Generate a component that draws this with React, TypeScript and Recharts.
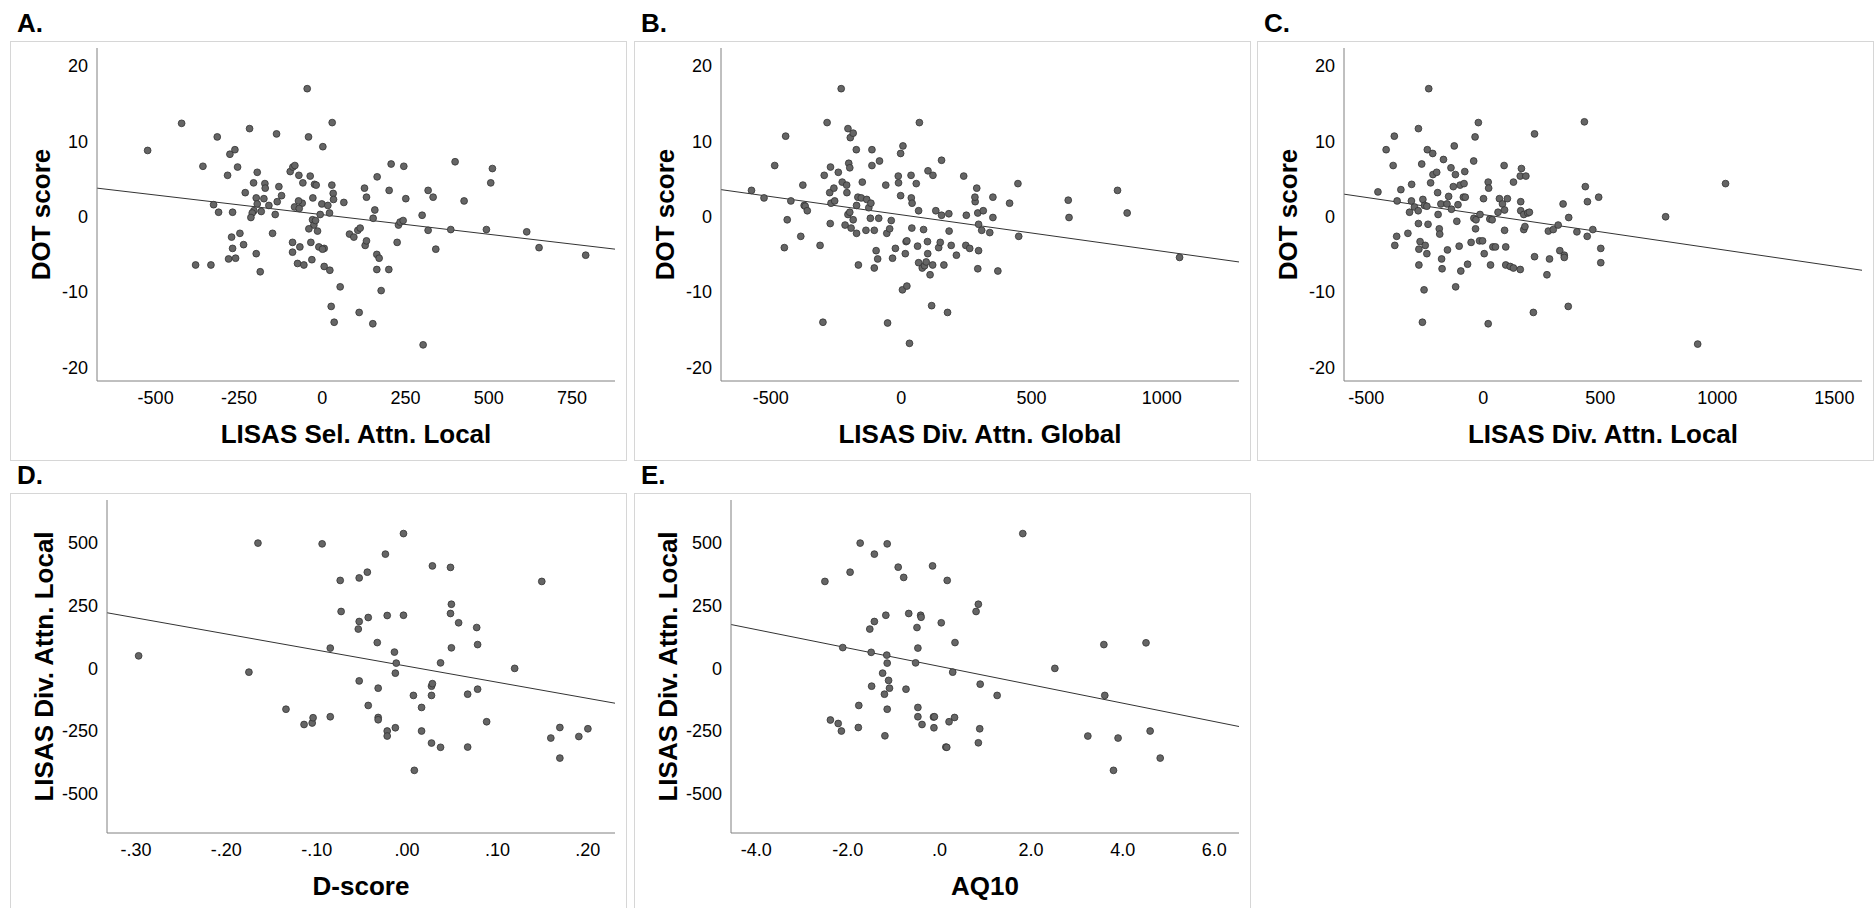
import React from "react";
import { ScatterChart, Scatter, XAxis, YAxis, ReferenceLine, Label } from "recharts";

type Pt = [number, number];

// A. LISAS Sel. Attn. Local (x) vs DOT score (y)
const panelA: Pt[] = [
  [-524, 8.8], [-422, 12.4], [-358, 6.7], [-315, 10.6], [-326, 1.6], [-311, 0.6], [-380, -6.4], [-334, -6.4],
  [-284, 5.5], [-277, 8.3], [-262, 8.9], [-254, 6.6], [-269, 0.6], [-272, -2.7], [-269, -4.2], [-281, -5.6],
  [-260, -5.5], [-247, -2.2], [-236, -3.7], [-231, 3.2], [-218, 11.7], [-206, 4.5], [-195, 5.9], [-198, 2.5],
  [-195, 1.7], [-205, 0.8], [-210, 0.5], [-214, -0.1], [-198, -4.9], [-186, -7.3], [-183, 0.7], [-175, 2.4],
  [-172, 4.4], [-171, 3.8], [-160, 1.5], [-141, 0.3], [-149, -2.2], [-137, 11.0], [-135, 2.0], [-130, 4.0],
  [-122, 2.8], [-96, 6.0], [-88, 6.6], [-82, 6.8], [-70, 5.5], [-58, 4.5], [-60, 1.8], [-71, 2.1],
  [-83, 1.3], [-69, 1.1], [-89, -3.4], [-89, -4.7], [-67, -4.0], [-74, -6.2], [-55, -6.4], [-45, 17.0],
  [-41, 10.6], [-36, 5.4], [-28, 2.5], [-23, 4.3], [-18, 4.2], [-29, -0.4], [-25, -1.1], [-40, -1.6],
  [-14, -1.9], [-34, -3.4], [-31, -5.7], [-20, -0.5], [-6, 0.3], [-1, 1.7], [2, 9.3], [17, 1.5],
  [22, 0.5], [-10, -4.0], [6, -4.2], [1, -4.3], [6, -6.6], [23, -7.1], [30, 12.5], [29, 4.2],
  [33, 3.1], [34, 2.3], [65, 1.9], [27, -11.9], [36, -14.0], [54, -9.3], [82, -2.3], [95, -2.7],
  [107, -1.8], [114, -1.5], [111, -12.7], [127, 3.8], [133, 2.6], [129, -3.8], [133, -3.2], [152, -14.2],
  [153, -0.2], [158, 0.9], [165, 5.3], [164, -5.0], [171, -5.5], [164, -7.0], [177, -9.8], [201, 3.5],
  [200, -7.0], [207, 7.0], [225, -3.4], [229, -1.1], [234, -0.7], [243, -0.5], [245, 6.7], [251, 2.4],
  [300, 0.2], [303, -17.0], [318, 3.5], [318, -1.8], [333, 2.6], [341, -4.3], [386, -1.7], [399, 7.3],
  [426, 2.1], [493, -1.7], [506, 4.5], [511, 6.4], [614, -2.0], [651, -4.1], [791, -5.1],
];
const fitA: Pt[] = [[-676, 3.8], [879, -4.3]];

// B. LISAS Div. Attn. Global (x) vs DOT score (y)
const panelB: Pt[] = [
  [-574, 3.5], [-526, 2.5], [-485, 6.8], [-443, 10.7], [-437, -0.4], [-448, -4.1], [-423, 2.1], [-385, -2.6],
  [-377, 4.2], [-372, 1.5], [-368, 1.4], [-360, 0.8], [-311, -3.8], [-300, -14.0], [-295, 5.5], [-284, 12.5],
  [-274, 3.2], [-271, 6.6], [-272, -0.9], [-269, 1.8], [-255, 2.1], [-258, 3.8], [-241, 5.9], [-230, 17.0],
  [-226, 4.6], [-215, -1.1], [-208, 3.2], [-209, 4.2], [-204, 11.7], [-201, 7.1], [-197, 6.5], [-195, 10.5],
  [-184, 11.1], [-204, 0.3], [-197, 0.6], [-192, -1.5], [-184, -0.4], [-172, 8.9], [-171, 1.5], [-171, -2.2],
  [-166, 2.6], [-164, -6.4], [-153, 2.5], [-149, 4.6], [-135, -1.8], [-132, 2.3], [-124, 1.2], [-116, 1.8],
  [-118, -0.2], [-112, 8.9], [-112, 6.8], [-103, -1.8], [-103, -6.8], [-96, -4.5], [-90, -5.6], [-86, -0.2],
  [-83, 7.4], [-59, 4.2], [-55, -2.2], [-44, -1.6], [-52, -14.1], [-38, -0.5], [-33, -5.5], [-22, -4.2],
  [-11, 5.4], [-10, 4.5], [-2, 2.8], [-2, 8.4], [7, 9.4], [5, -9.7], [22, -9.2], [16, -4.9],
  [19, -3.3], [22, -3.2], [32, -16.8], [38, 5.5], [39, 2.5], [42, 1.8], [41, -1.5], [58, 4.4],
  [67, 0.8], [70, 12.5], [63, -3.9], [67, -6.1], [81, -6.8], [86, -1.7], [90, -6.5], [96, -6.0],
  [101, -3.3], [102, -4.9], [103, 6.1], [111, -7.7], [117, -11.8], [121, -6.4], [122, 5.5], [133, 0.8],
  [144, -4.1], [150, -3.4], [155, 0.2], [155, 7.5], [164, -6.4], [178, -12.7], [183, 0.4], [184, -1.9],
  [192, -3.8], [212, -5.1], [240, 5.4], [250, 0.2], [248, -3.8], [263, -4.2], [284, 2.0], [283, 2.6],
  [290, 3.8], [294, 0.5], [297, -1.0], [297, -4.5], [294, -6.9], [309, -1.8], [315, 0.8], [340, -2.1],
  [352, 2.6], [352, -0.1], [371, -7.2], [416, 1.8], [448, 4.4], [451, -2.6], [641, 2.2], [644, -0.1],
  [830, 3.5], [867, 0.5], [1068, -5.4],
];
const fitB: Pt[] = [[-691, 3.6], [1296, -6.0]];

// C. LISAS Div. Attn. Local (x) vs DOT score (y)
const panelC: Pt[] = [
  [-450, 3.3], [-415, 8.9], [-385, 6.8], [-380, 10.7], [-368, 2.1], [-370, -2.6], [-378, -3.8], [-352, 3.6],
  [-322, -2.2], [-315, 0.6], [-307, 2.1], [-306, 4.3], [-294, 1.3], [-278, 0.8], [-277, -0.9], [-277, 11.7],
  [-275, -6.4], [-275, -4.3], [-270, -3.3], [-263, 7.0], [-260, -14.0], [-258, 2.3], [-253, -9.7], [-251, 1.5],
  [-248, -3.8], [-241, -4.9], [-241, 1.4], [-239, 8.9], [-236, -1.0], [-233, 17.0], [-225, 4.5], [-216, 8.4],
  [-215, 5.6], [-199, 5.9], [-195, 3.2], [-193, 0.3], [-188, -1.6], [-186, -2.3], [-181, 1.7], [-178, -5.6],
  [-176, -6.9], [-170, 7.6], [-155, 1.7], [-153, -4.4], [-148, 2.7], [-138, 6.5], [-136, 1.0], [-128, 4.0],
  [-124, 9.4], [-119, 5.6], [-118, -9.3], [-113, -0.6], [-108, 1.6], [-103, -3.9], [-99, 4.2], [-96, -7.2],
  [-85, 2.6], [-82, 4.4], [-79, 6.0], [-77, 2.6], [-67, -6.3], [-52, -3.4], [-41, 7.4], [-40, -0.2],
  [-35, 10.6], [-33, -1.6], [-31, -0.4], [-21, 12.5], [-14, 0.3], [-16, -3.2], [-3, -3.2], [1, 2.4],
  [4, -4.9], [21, 4.6], [23, 3.8], [21, -14.2], [28, -0.3], [31, -6.4], [38, -0.4], [41, -4.0],
  [52, -4.0], [63, 0.6], [69, 2.4], [82, 1.7], [89, 6.8], [91, 0.9], [91, -1.8], [96, -4.0],
  [96, -6.4], [103, 2.4], [115, -6.6], [129, 4.6], [129, -6.8], [158, -7.0], [160, 2.0], [160, 0.8],
  [163, 6.4], [158, 5.4], [173, 0.3], [173, -1.7], [178, -1.3], [182, 5.4], [190, 0.5], [197, 0.6],
  [214, -12.7], [219, 11.0], [219, -5.3], [272, -7.7], [278, -1.9], [283, -5.6], [299, -1.7], [320, -1.1],
  [327, -4.5], [341, 1.7], [346, -5.1], [346, -5.4], [363, -11.9], [365, -0.1], [400, -2.0], [432, 12.6],
  [436, 4.0], [444, -2.6], [445, 2.0], [468, -1.7], [493, 2.6], [502, -4.2], [502, -6.1], [779, 0.0],
  [916, -16.9], [1035, 4.4],
];
const fitC: Pt[] = [[-595, 3.0], [1618, -7.1]];

// D. D-score (x) vs LISAS Div. Attn. Local (y)
const panelD: Pt[] = [
  [-0.297, 49], [-0.175, -16], [-0.165, 499], [-0.134, -164], [-0.114, -225], [-0.105, -219], [-0.104, -198],
  [-0.094, 496], [-0.085, -194], [-0.085, 80], [-0.074, 350], [-0.073, 226], [-0.054, 156], [-0.053, 360],
  [-0.053, 186], [-0.053, -51], [-0.044, 383], [-0.043, 202], [-0.043, -149], [-0.033, 102], [-0.032, -80],
  [-0.032, -197], [-0.032, -206], [-0.024, 455], [-0.022, 210], [-0.022, -251], [-0.022, -271], [-0.014, 64],
  [-0.013, -20], [-0.013, -238], [-0.012, 20], [-0.004, 537], [-0.004, 211], [0.007, -109], [0.008, -408],
  [0.016, -157], [0.016, -251], [0.027, -72], [0.028, -62], [0.027, -109], [0.027, -299], [0.028, 408],
  [0.037, 21], [0.037, -316], [0.048, 402], [0.049, 255], [0.048, 218], [0.049, 81], [0.057, 181],
  [0.067, -104], [0.067, -315], [0.077, 162], [0.078, 94], [0.078, -84], [0.088, -214], [0.119, -1],
  [0.149, 346], [0.159, -279], [0.169, -237], [0.169, -359], [0.19, -273], [0.2, -242],
];
const fitD: Pt[] = [[-0.332, 221], [0.23, -140]];

// E. AQ10 (x) vs LISAS Div. Attn. Local (y)
const panelE: Pt[] = [
  [-2.5, 346], [-2.38, -207], [-2.21, -221], [-2.14, -251], [-2.11, 82], [-1.95, 383], [-1.77, -237],
  [-1.76, -149], [-1.73, 499], [-1.52, 156], [-1.49, 63], [-1.48, -72], [-1.42, 455], [-1.42, 186],
  [-1.24, -20], [-1.2, -104], [-1.17, 211], [-1.19, -270], [-1.15, 52], [-1.14, 20], [-1.14, 496],
  [-1.14, -164], [-1.11, -49], [-1.09, -80], [-0.9, 403], [-0.78, 362], [-0.73, -84], [-0.67, 218],
  [-0.52, 21], [-0.49, 162], [-0.47, 80], [-0.47, -157], [-0.47, -194], [-0.41, 211], [-0.4, 203],
  [-0.38, -225], [-0.15, 408], [-0.13, -195], [-0.12, -238], [-0.11, -194], [0.04, 181], [0.14, -315],
  [0.16, -316], [0.17, 350], [0.21, -214], [0.29, -16], [0.33, -197], [0.34, 102], [0.8, 226],
  [0.85, 255], [0.85, -298], [0.88, -242], [0.89, -64], [1.26, -109], [1.82, 537], [2.52, -1],
  [3.24, -271], [3.59, 94], [3.61, -109], [3.8, -408], [3.9, -279], [4.51, 101], [4.6, -251], [4.82, -359],
];
const fitE: Pt[] = [[-4.55, 174], [6.54, -233]];

const dotTicks = [-20, -10, 0, 10, 20];
const lisasTicks = [-500, -250, 0, 250, 500];
const ticksA = [-500, -250, 0, 250, 500, 750];
const ticksB = [-500, 0, 500, 1000];
const ticksC = [-500, 0, 500, 1000, 1500];
const ticksD = [-0.3, -0.2, -0.1, 0, 0.1, 0.2];
const ticksE = [-4, -2, 0, 2, 4, 6];

const FONT = '"Liberation Sans", Arial, Helvetica, sans-serif';
const W = 617;
const H = 420;
const PLOT_TOP = 7;
const PLOT_H = 333;
const PLOT_RIGHT = 605;

// SPSS style: drop the leading zero (".10", "-.30", ".0")
const noLead = (digits: number) => (v: number) =>
  v.toFixed(digits).replace(/^(-?)0\./, "$1.");

type PanelProps = {
  letter: string;
  left: number;
  top: number;
  data: Pt[];
  fit: Pt[];
  xDomain: [number, number];
  xTicks: number[];
  xFmt?: (v: number) => string;
  yDomain: [number, number];
  yTicks: number[];
  xLabel: string;
  yLabel: string;
  axisLeft: number;
  yTitleX: number;
};

const Dot = (props: any) => (
  <circle cx={props.cx} cy={props.cy} r={3.4} fill="#656565" stroke="#333" strokeWidth={0.8} />
);

const Panel = (p: PanelProps) => {
  const pts = p.data.map(([x, y]) => ({ x, y }));
  const tickStyle = { fill: "#000", fontSize: 18, fontFamily: FONT };
  const titleStyle = { fontFamily: FONT, fontSize: 26, fontWeight: "bold", fill: "#000" };
  return (
    <>
      <div
        style={{
          position: "absolute",
          left: p.left + 7,
          top: p.top - 31,
          font: `bold 26px ${FONT}`,
          lineHeight: "26px",
          color: "#000",
        }}
      >
        {p.letter}
      </div>
      <div
        style={{
          position: "absolute",
          left: p.left,
          top: p.top,
          width: W,
          height: H,
          border: "1px solid #d6d6d6",
          boxSizing: "border-box",
        }}
      />
      <div style={{ position: "absolute", left: p.left, top: p.top }}>
        <ScatterChart
          width={W}
          height={H}
          margin={{ top: PLOT_TOP, right: W - PLOT_RIGHT, bottom: 0, left: 0 }}
        >
          <XAxis
            type="number"
            dataKey="x"
            domain={p.xDomain}
            ticks={p.xTicks}
            interval={0}
            allowDataOverflow
            tickFormatter={p.xFmt}
            axisLine={{ stroke: "#808080" }}
            tickLine={false}
            tickSize={0}
            tickMargin={10}
            height={H - PLOT_TOP - PLOT_H}
            tick={tickStyle}
          >
            <Label value={p.xLabel} position="insideBottom" offset={18} style={titleStyle} />
          </XAxis>
          <YAxis
            type="number"
            dataKey="y"
            domain={p.yDomain}
            ticks={p.yTicks}
            interval={0}
            allowDataOverflow
            axisLine={{ stroke: "#808080" }}
            tickLine={false}
            tickSize={0}
            tickMargin={9}
            width={p.axisLeft}
            tick={tickStyle}
          >
            <Label
              value={p.yLabel}
              angle={-90}
              position="insideLeft"
              offset={p.yTitleX}
              style={{ ...titleStyle, textAnchor: "middle" }}
            />
          </YAxis>
          <ReferenceLine
            segment={[
              { x: p.fit[0][0], y: p.fit[0][1] },
              { x: p.fit[1][0], y: p.fit[1][1] },
            ]}
            stroke="#333"
            strokeWidth={1}
            ifOverflow="visible"
          />
          <Scatter data={pts} shape={Dot} isAnimationActive={false} />
        </ScatterChart>
      </div>
    </>
  );
};

export default function App() {
  return (
    <div
      style={{
        position: "absolute",
        left: 0,
        top: 0,
        width: 1876,
        height: 908,
        overflow: "hidden",
        background: "#fff",
        fontFamily: FONT,
      }}
    >
      <Panel
        letter="A."
        left={10}
        top={41}
        data={panelA}
        fit={fitA}
        xDomain={[-676, 879]}
        xTicks={ticksA}
        yDomain={[-21.8, 22.4]}
        yTicks={dotTicks}
        xLabel="LISAS Sel. Attn. Local"
        yLabel="DOT score"
        axisLeft={87}
        yTitleX={31}
      />
      <Panel
        letter="B."
        left={634}
        top={41}
        data={panelB}
        fit={fitB}
        xDomain={[-691, 1296]}
        xTicks={ticksB}
        yDomain={[-21.8, 22.4]}
        yTicks={dotTicks}
        xLabel="LISAS Div. Attn. Global"
        yLabel="DOT score"
        axisLeft={87}
        yTitleX={31}
      />
      <Panel
        letter="C."
        left={1257}
        top={41}
        data={panelC}
        fit={fitC}
        xDomain={[-595, 1618]}
        xTicks={ticksC}
        yDomain={[-21.8, 22.4]}
        yTicks={dotTicks}
        xLabel="LISAS Div. Attn. Local"
        yLabel="DOT score"
        axisLeft={87}
        yTitleX={31}
      />
      <Panel
        letter="D."
        left={10}
        top={493}
        data={panelD}
        fit={fitD}
        xDomain={[-0.332, 0.23]}
        xTicks={ticksD}
        xFmt={noLead(2)}
        yDomain={[-658, 671]}
        yTicks={lisasTicks}
        xLabel="D-score"
        yLabel="LISAS Div. Attn. Local"
        axisLeft={97}
        yTitleX={34}
      />
      <Panel
        letter="E."
        left={634}
        top={493}
        data={panelE}
        fit={fitE}
        xDomain={[-4.55, 6.54]}
        xTicks={ticksE}
        xFmt={noLead(1)}
        yDomain={[-658, 671]}
        yTicks={lisasTicks}
        xLabel="AQ10"
        yLabel="LISAS Div. Attn. Local"
        axisLeft={97}
        yTitleX={34}
      />
    </div>
  );
}
